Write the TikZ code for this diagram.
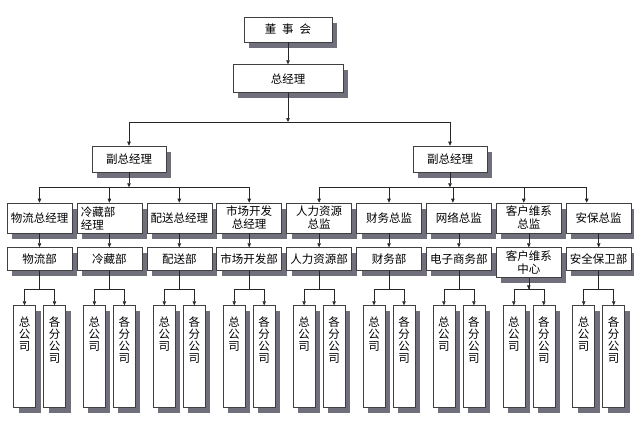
\documentclass[tikz,border=0pt]{standalone}
\usepackage{fontspec}
\setmainfont{Noto Sans CJK SC}
\usetikzlibrary{
  positioning,
  arrows.meta,
  shadows
}
\definecolor{shadowgray}{RGB}{112,112,124}
\newcommand{\vlabel}[1]{\parbox[c][96pt][t]{13pt}{\centering\vspace*{8pt}\fontsize{11.5}{12}\selectfont #1}}

\begin{document}
\begin{tikzpicture}[
  x=1pt, y=1pt,
  every node/.style={font=\fontsize{11.5}{13}\selectfont},
  box/.style={rectangle, draw=black!75, fill=white, line width=0.6pt, inner sep=1pt, align=center,
    drop shadow={shadow xshift=5pt, shadow yshift=-5.5pt, fill=shadowgray, opacity=1}},
  post/.style={box, minimum width=65pt, minimum height=30pt},
  dept/.style={box, minimum width=65pt, minimum height=23pt},
  sub/.style={box, minimum width=22pt, minimum height=102pt, inner sep=0pt},
  line/.style={line width=0.6pt, black!85},
  arrow/.style={line, -{Triangle[length=4pt, width=3.5pt]}}
]
\useasboundingbox (0,0) rectangle (634,-445);

\node[box, minimum width=88pt, minimum height=25pt] (dsh) at (288,-29.5) {董\hspace{6pt}事\hspace{6pt}会};
\node[box, minimum width=110pt, minimum height=28pt, below=22pt of dsh] (zjl) {总经理};
\node[box, minimum width=74pt, minimum height=26pt] (fz1) at (129,-159) {副总经理};
\node[box, minimum width=74pt, minimum height=26pt] (fz2) at (450,-159) {副总经理};

% Directors
\node[post] (c1) at (39.5,-218) {物流总经理};
\node[post, right=4.3pt of c1, text width=57pt, align=left] (c2) {冷藏部\\经理};
\node[post, right=4.3pt of c2] (c3) {配送总经理};
\node[post, right=4.3pt of c3] (c4) {市场开发\\总经理};
\node[post, right=4.3pt of c4] (c5) {人力资源\\总监};
\node[post, right=4.3pt of c5] (c6) {财务总监};
\node[post, right=4.3pt of c6] (c7) {网络总监};
\node[post, right=4.3pt of c7] (c8) {客户维系\\总监};
\node[post, right=4.3pt of c8] (c9) {安保总监};

% Departments
\node[dept, below=14pt of c1] (d1) {物流部};
\node[dept, below=14pt of c2] (d2) {冷藏部};
\node[dept, below=14pt of c3] (d3) {配送部};
\node[dept, below=14pt of c4] (d4) {市场开发部};
\node[dept, below=14pt of c5] (d5) {人力资源部};
\node[dept, below=14pt of c6] (d6) {财务部};
\node[dept, below=14pt of c7] (d7) {电子商务部};
\node[dept, minimum height=30pt, below=14pt of c8] (d8) {客户维系\\中心};
\node[dept, below=14pt of c9] (d9) {安全保卫部};

% Arrows
\coordinate (bus1) at (288,-122);
\coordinate[below=15pt of fz1] (bus2);
\coordinate[below=15pt of fz2] (bus3);
\draw[arrow] (dsh) -- (zjl);
\draw[arrow] (zjl) -- (bus1);
\draw[arrow] (bus1) -| (fz1);
\draw[arrow] (bus1) -| (fz2);
\draw[arrow] (fz1) -- (bus2);
\draw[arrow] (fz2) -- (bus3);
\draw[arrow] (bus2) -| (c1);
\draw[arrow] (bus2) -| (c2);
\draw[arrow] (bus2) -| (c3);
\draw[arrow] (bus2) -| (c4);
\draw[arrow] (bus3) -| (c5);
\draw[arrow] (bus3) -| (c6);
\draw[arrow] (bus3) -| ([xshift=-6pt]c7.north);
\draw[arrow] (bus3) -| ([xshift=-5pt]c8.north);
\draw[arrow] (bus3) -| ([xshift=-12pt]c9.north);

% Offices
\foreach \i in {1,...,9} {
  \draw[arrow] (c\i) -- (d\i);
  \node[sub, below=72pt of c\i, xshift=-15pt] (z\i) {\vlabel{总\\公\\司}};
  \node[sub, below=72pt of c\i, xshift=15pt] (f\i) {\vlabel{各\\分\\公\\司}};
  \coordinate[below=56pt of c\i] (b\i);
  \draw[line] (d\i) -- (b\i);
  \draw[arrow] (b\i) -| (z\i);
  \draw[arrow] (b\i) -| (f\i);
}
\draw[arrow] (d8) -- (b8);

\end{tikzpicture}
\end{document}
